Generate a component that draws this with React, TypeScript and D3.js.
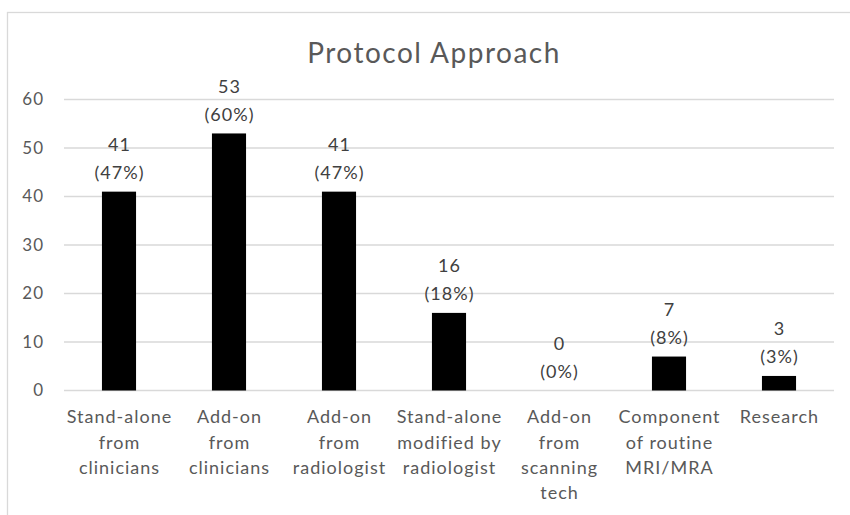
import React, { useEffect, useRef } from 'react'
import * as d3 from 'd3'

const categories = [
  'Stand-alone from clinicians',
  'Add-on from clinicians',
  'Add-on from radiologist',
  'Stand-alone modified by radiologist',
  'Add-on from scanning tech',
  'Component of routine MRI/MRA',
  'Research',
]
// how each category label wraps in the original
const categoryLines = [
  ['Stand-alone', 'from', 'clinicians'],
  ['Add-on', 'from', 'clinicians'],
  ['Add-on', 'from', 'radiologist'],
  ['Stand-alone', 'modified by', 'radiologist'],
  ['Add-on', 'from', 'scanning', 'tech'],
  ['Component', 'of routine', 'MRI/MRA'],
  ['Research'],
]
const counts = [41, 53, 41, 16, 0, 7, 3]
const percents = [47, 60, 47, 18, 0, 8, 3]
const yTicks = [0, 10, 20, 30, 40, 50, 60]

const W = 850
const H = 515
const FONT = 'Lato, "Open Sans", sans-serif'
const TEXT = '#595959'
const GRID = '#d9d9d9'

export default function App() {
  const ref = useRef<SVGSVGElement | null>(null)

  useEffect(() => {
    if (!ref.current) return
    const svg = d3.select(ref.current)
    svg.selectAll('*').remove()

    const left = 64
    const right = 834
    const top = 99.5
    const bottom = 390.5

    const x = d3.scaleBand<string>().domain(categories).range([left, right]).paddingInner(0.69).paddingOuter(0.345)
    const y = d3.scaleLinear().domain([0, 60]).range([bottom, top])

    // chart area border
    svg
      .append('rect')
      .attr('x', 7.5)
      .attr('y', 12.5)
      .attr('width', W + 20)
      .attr('height', H + 20)
      .attr('fill', '#fff')
      .attr('stroke', GRID)
      .attr('stroke-width', 1.3)

    svg
      .append('text')
      .attr('x', 434)
      .attr('y', 63)
      .attr('text-anchor', 'middle')
      .attr('fill', TEXT)
      .style('font-family', FONT)
      .style('font-size', '28px')
      .style('letter-spacing', '1.5px')
      .text('Protocol Approach')

    // gridlines + y labels
    const grid = svg.append('g')
    grid
      .selectAll('line')
      .data(yTicks)
      .join('line')
      .attr('x1', left)
      .attr('x2', right)
      .attr('y1', (d) => y(d))
      .attr('y2', (d) => y(d))
      .attr('stroke', GRID)
      .attr('stroke-width', 1.3)

    grid
      .selectAll('text')
      .data(yTicks)
      .join('text')
      .attr('x', 44)
      .attr('y', (d) => y(d))
      .attr('dy', '0.35em')
      .attr('text-anchor', 'end')
      .attr('fill', TEXT)
      .style('font-family', FONT)
      .style('font-size', '17px')
      .style('letter-spacing', '1px')
      .text((d) => d)

    // bars
    svg
      .append('g')
      .selectAll('rect')
      .data(counts)
      .join('rect')
      .attr('x', (_, i) => x(categories[i]) as number)
      .attr('y', (d) => y(d))
      .attr('width', x.bandwidth())
      .attr('height', (d) => bottom - y(d))
      .attr('fill', '#000')

    // data labels: count on one line, percent below
    const labels = svg
      .append('g')
      .style('font-family', FONT)
      .style('font-size', '18px')
      .style('letter-spacing', '1px')
      .attr('fill', '#404040')
    counts.forEach((c, i) => {
      const cx = (x(categories[i]) as number) + x.bandwidth() / 2 + 0.5
      const t = y(c)
      labels
        .append('text')
        .attr('x', cx)
        .attr('y', t - 47)
        .attr('dy', '0.35em')
        .attr('text-anchor', 'middle')
        .text(c)
      labels
        .append('text')
        .attr('x', cx)
        .attr('y', t - 19)
        .attr('dy', '0.35em')
        .attr('text-anchor', 'middle')
        .text(`(${percents[i]}%)`)
    })

    // category labels
    const cat = svg
      .append('g')
      .style('font-family', FONT)
      .style('font-size', '18px')
      .style('letter-spacing', '1px')
      .attr('fill', TEXT)
    categoryLines.forEach((lines, i) => {
      const cx = (x(categories[i]) as number) + x.bandwidth() / 2 + 0.5
      lines.forEach((ln, j) => {
        cat
          .append('text')
          .attr('x', cx)
          .attr('y', 417 + j * 25.3)
          .attr('dy', '0.35em')
          .attr('text-anchor', 'middle')
          .text(ln)
      })
    })
  }, [])

  return (
    <svg
      ref={ref}
      width={W}
      height={H}
      style={{ position: 'absolute', left: 0, top: 0, background: '#fff' }}
    />
  )
}
